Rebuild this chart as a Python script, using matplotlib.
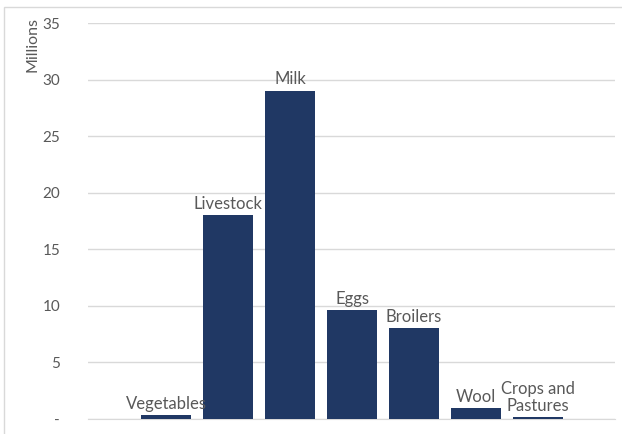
import matplotlib
matplotlib.use("Agg")
import matplotlib.pyplot as plt
from matplotlib.patches import Rectangle

categories = ["Vegetables", "Livestock", "Milk", "Eggs", "Broilers", "Wool", "Crops and\nPastures"]
values = [0.35, 18.0, 29.0, 9.6, 8.05, 0.97, 0.18]
yticks = [0, 5, 10, 15, 20, 25, 30, 35]
ytick_labels = ["-", "5", "10", "15", "20", "25", "30", "35"]

plt.rcParams['font.family'] = ['Lato', 'DejaVu Sans']
grey = "#595959"

fig = plt.figure(figsize=(6.22, 4.34), dpi=100)
ax = fig.add_axes([88/622, 1-419/434, (615-88)/622, (419-23)/434])

x = list(range(len(categories)))
bars = ax.bar(x, values, width=0.8, color="#203864", zorder=3)

for xi, v, lab in zip(x, values, categories):
    ax.text(xi, v + 0.3, lab, ha="center", va="bottom", fontsize=12,
            color=grey, linespacing=1.05, zorder=4)

ax.set_xlim(-1.26, 7.24)
ax.set_ylim(0, 35)
ax.set_yticks(yticks)
ax.set_yticklabels(ytick_labels, color=grey, fontsize=11)
ax.set_xticks([])
ax.tick_params(axis="y", length=0, pad=20)
ax.grid(axis="y", color="#d9d9d9", linewidth=1, zorder=0)
for s in ["top", "right", "left"]:
    ax.spines[s].set_visible(False)
ax.spines["bottom"].set_color("#d9d9d9")

fig.text(32/622, 1-45/434, "Millions", rotation=90, ha="center", va="center",
         fontsize=11.5, color=grey)

fig.patches.append(Rectangle((4/622, -0.1), 1.2, 1-7/434 + 0.1, transform=fig.transFigure,
                             fill=False, edgecolor="#d9d9d9", linewidth=1))

fig.savefig("out.png", dpi=100)
